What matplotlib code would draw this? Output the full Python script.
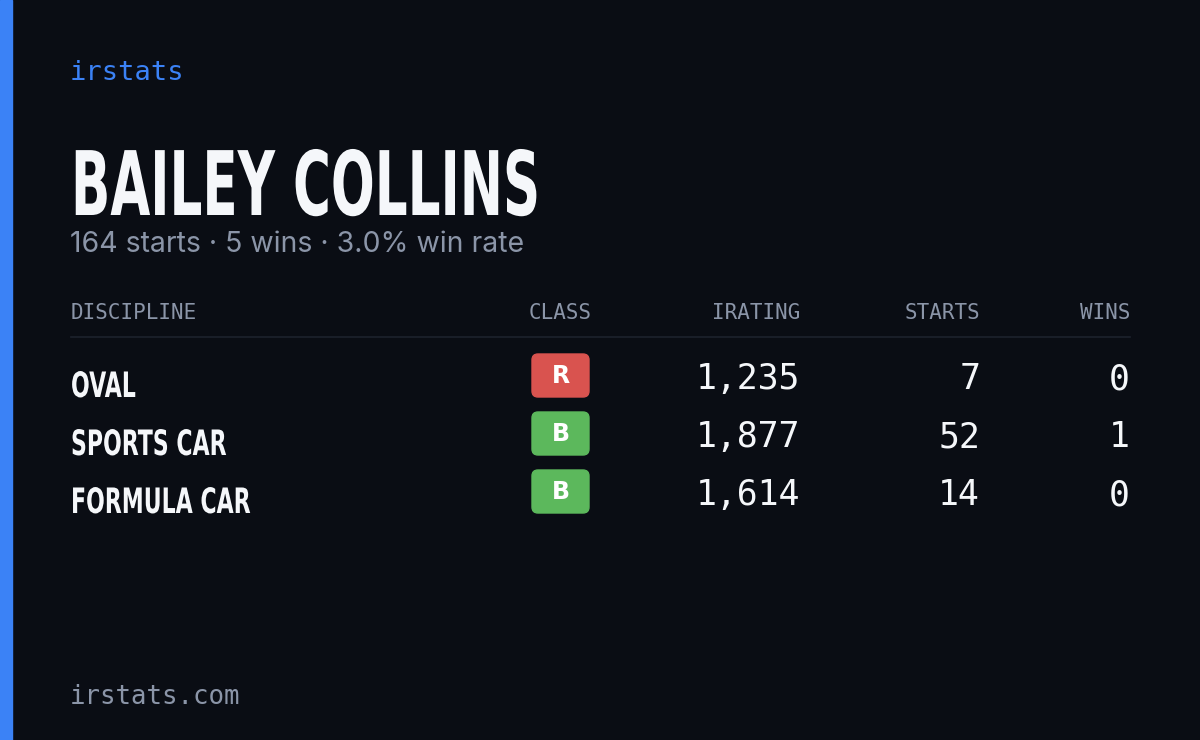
import matplotlib
matplotlib.use("Agg")
import matplotlib.pyplot as plt
from matplotlib.patches import FancyBboxPatch, Rectangle, PathPatch
from matplotlib.textpath import TextPath
from matplotlib.font_manager import FontProperties
from matplotlib.transforms import Affine2D

# card content
name = "BAILEY COLLINS"
subtitle = "164 starts · 5 wins · 3.0% win rate"
headers = ["DISCIPLINE", "CLASS", "IRATING", "STARTS", "WINS"]
disciplines = ["OVAL", "SPORTS CAR", "FORMULA CAR"]
classes = ["R", "B", "B"]
iratings = [1235, 1877, 1614]
starts = [7, 52, 14]
wins = [0, 1, 0]
class_colors = {"R": "#d9534f", "B": "#5cb85c"}

W, H = 1200, 740
fig = plt.figure(figsize=(12, 7.4), dpi=100)
fig.patch.set_facecolor("#0a0d14")
ax = fig.add_axes([0, 0, 1, 1])
ax.set_xlim(0, W)
ax.set_ylim(H, 0)
ax.axis("off")

mono = "DejaVu Sans Mono"
bold = FontProperties(family="DejaVu Sans", weight="bold")


def condensed(x, baseline, s, size, xscale, color):
    # no condensed face installed, so squeeze the glyph outlines
    tp = TextPath((0, 0), s, size=size, prop=bold)
    tr = Affine2D().scale(xscale, -1).translate(x, baseline)
    ax.add_patch(PathPatch(tr.transform_path(tp), color=color, lw=0))


ax.add_patch(Rectangle((0, 0), 12, H, color="#3b82f6"))

ax.text(70, 73, "irstats", family=mono, fontsize=19.5, color="#3b82f6", va="center")
condensed(71, 215, name, 89, 0.58, "#f5f7fa")
ax.text(70, 245, subtitle, family="Inter", fontsize=20.5, color="#8b95a8", va="center")

# table header
col_x = [71, 560, 800, 980, 1130]
col_ha = ["left", "center", "right", "right", "right"]
for h, x, ha in zip(headers, col_x, col_ha):
    ax.text(x, 313, h, family=mono, fontsize=15, fontweight="medium",
            color="#8b95a8", ha=ha, va="center")
ax.plot([71, 1130], [337, 337], color="#1d222d", lw=1.2)

row_y = [379, 437, 495]
for i, y in enumerate(row_y):
    condensed(71, y + 18, disciplines[i], 35, 0.63, "#f5f7fa")
    ax.add_patch(FancyBboxPatch((532, y - 25), 57, 43,
                                boxstyle="round,pad=0,rounding_size=6",
                                color=class_colors[classes[i]]))
    ax.text(560.5, y - 3, classes[i], family="DejaVu Sans", fontweight="bold",
            fontsize=17, color="white", ha="center", va="center")
    ax.text(800, y, f"{iratings[i]:,}", family=mono, fontsize=25,
            color="#f5f7fa", ha="right", va="center")
    ax.text(980, y, str(starts[i]), family=mono, fontsize=25,
            color="#f5f7fa", ha="right", va="center")
    ax.text(1130, y, str(wins[i]), family=mono, fontsize=25,
            color="#f5f7fa", ha="right", va="center")

ax.text(70, 697, "irstats.com", family=mono, fontsize=18.5, color="#8b95a8", va="center")

fig.savefig("out.png", dpi=100, facecolor=fig.get_facecolor())
